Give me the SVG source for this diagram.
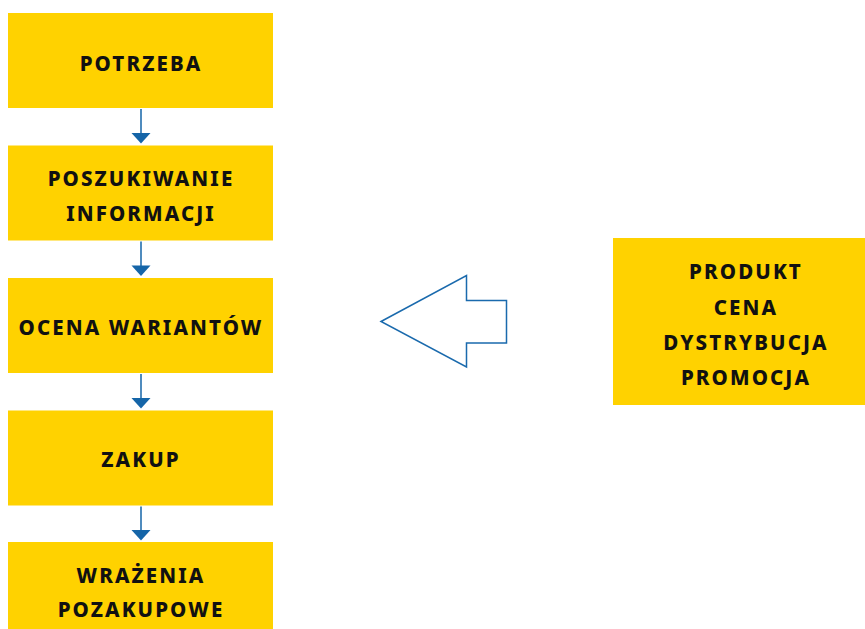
<svg xmlns="http://www.w3.org/2000/svg" width="865" height="629" viewBox="0 0 865 629">
  <style>
    .box { fill: #ffd200; }
    .lbl { font-family: "Noto Sans", "Open Sans", sans-serif; font-weight: 800; font-size: 20.5px; letter-spacing: 2.1px; fill: #111; text-anchor: middle; }
    .conn { stroke: #1565a8; stroke-width: 1.5; fill: none; }
    .head { fill: #1565a8; }
    .big { fill: #fff; stroke: #1a6aad; stroke-width: 1.5; }
  </style>
  <rect width="865" height="629" fill="#fff"/>

  <g id="potrzeba">
    <rect class="box" x="8" y="13" width="265" height="95"/>
    <text class="lbl" x="141" y="70.5">POTRZEBA</text>
  </g>
  <g id="poszukiwanie">
    <rect class="box" x="8" y="145.5" width="265" height="95"/>
    <text class="lbl" x="141" y="185.5">POSZUKIWANIE</text>
    <text class="lbl" x="141" y="220.5">INFORMACJI</text>
  </g>
  <g id="ocena">
    <rect class="box" x="8" y="278" width="265" height="95"/>
    <text class="lbl" x="141" y="335">OCENA WARIANTÓW</text>
  </g>
  <g id="zakup">
    <rect class="box" x="8" y="410.5" width="265" height="95"/>
    <text class="lbl" x="141" y="467">ZAKUP</text>
  </g>
  <g id="wrazenia">
    <rect class="box" x="8" y="542" width="265" height="95"/>
    <text class="lbl" x="141" y="583">WRAŻENIA</text>
    <text class="lbl" x="141" y="617">POZAKUPOWE</text>
  </g>
  <g id="marketing-mix">
    <rect class="box" x="613" y="238" width="266" height="167"/>
    <text class="lbl" x="746" y="279">PRODUKT</text>
    <text class="lbl" x="746" y="314.5">CENA</text>
    <text class="lbl" x="746" y="350">DYSTRYBUCJA</text>
    <text class="lbl" x="746" y="384.5">PROMOCJA</text>
  </g>

  <g id="connectors">
    <line class="conn" x1="141" y1="109" x2="141" y2="134"/>
    <polygon class="head" points="131.5,133 150.5,133 141,143.5"/>
    <line class="conn" x1="141" y1="241.5" x2="141" y2="266.5"/>
    <polygon class="head" points="131.5,265.5 150.5,265.5 141,276"/>
    <line class="conn" x1="141" y1="374" x2="141" y2="399"/>
    <polygon class="head" points="131.5,398 150.5,398 141,408.5"/>
    <line class="conn" x1="141" y1="506.5" x2="141" y2="531"/>
    <polygon class="head" points="131.5,530 150.5,530 141,540.5"/>
    <polygon class="big" points="381,321.5 466.5,275.5 466.5,300.5 506.5,300.5 506.5,343 466.5,343 466.5,367"/>
  </g>
</svg>
